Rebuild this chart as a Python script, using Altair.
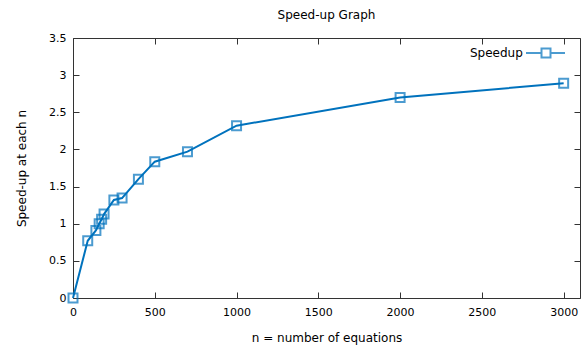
import altair as alt
import pandas as pd

# ---- data ----
n_values = [0, 90, 140, 160, 175, 190, 250, 300, 400, 500, 700, 1000, 2000, 3000]
speedup_values = [0, 0.77, 0.91, 1.0, 1.06, 1.13, 1.32, 1.345, 1.60, 1.835, 1.97, 2.32, 2.70, 2.89]
series_name = "Speedup"
x_ticks = [0, 500, 1000, 1500, 2000, 2500, 3000]
y_ticks = [0, 0.5, 1, 1.5, 2, 2.5, 3, 3.5]

df = pd.DataFrame({"n": n_values, "s": speedup_values, "series": [series_name] * len(n_values)})

FONT = "DejaVu Sans"
FS = 11
TFS = 12
BLUE = "#0072bd"
FRAME = "#333333"

xscale = alt.Scale(domain=[0, 3100], nice=False, zero=False)
yscale = alt.Scale(domain=[0, 3.5], nice=False)

# legend sample drawn to the right of the label (gnuplot style)
SYMBOL = "M13,0H16.1M17.9,0H20.8M16.1,-0.9H17.9V0.9H16.1Z"

color = alt.Color(
    "series:N",
    scale=alt.Scale(domain=[series_name], range=[BLUE]),
    legend=alt.Legend(
        title=None, orient="none", legendX=382, legendY=9, padding=0,
        symbolType=SYMBOL, symbolSize=100, symbolStrokeWidth=2,
        symbolFillColor="transparent", labelOffset=3,
        labelFont=FONT, labelFontSize=TFS, labelColor="black",
    ),
)

common = dict(labelFont=FONT, labelFontSize=FS, labelColor="black",
              titleFont=FONT, titleFontSize=TFS, titleColor="black", titleFontWeight="normal",
              tickColor=FRAME, tickWidth=1, domain=False, grid=False,
              labelFlush=False, labelOverlap=False)

x_main = alt.X("n:Q", scale=xscale, axis=alt.Axis(
    orient="bottom", values=x_ticks, format="d", offset=-6, tickSize=6, labelPadding=8,
    title="n = number of equations", titlePadding=15, **common))
y_main = alt.Y("s:Q", scale=yscale, axis=alt.Axis(
    orient="left", values=y_ticks, format="~g", offset=-6, tickSize=6, labelPadding=7,
    title="Speed-up at each n", titlePadding=20, **common))

line = alt.Chart(df).mark_line(strokeWidth=2, interpolate="linear").encode(
    x=x_main, y=y_main, color=color)
points = alt.Chart(df).mark_point(shape="square", size=81, filled=False, strokeWidth=2).encode(
    x=alt.X("n:Q", scale=xscale, axis=None),
    y=alt.Y("s:Q", scale=yscale, axis=None),
    color=color)

mirror = alt.Chart(df).mark_point(opacity=0).encode(
    x=alt.X("n:Q", scale=xscale, axis=alt.Axis(
        orient="top", values=x_ticks, offset=-6, tickSize=6, labels=False, title=None,
        tickColor=FRAME, domain=False, grid=False)),
    y=alt.Y("s:Q", scale=yscale, axis=alt.Axis(
        orient="right", values=y_ticks, offset=-6, tickSize=6, labels=False, title=None,
        tickColor=FRAME, domain=False, grid=False)),
)

chart = alt.layer(line, points, mirror).resolve_axis(x="independent", y="independent").properties(
    width=507, height=260,
    title=alt.Title("Speed-up Graph", font=FONT, fontSize=TFS, fontWeight="normal",
                    color="black", anchor="middle", offset=10),
    autosize=alt.AutoSizeParams(type="none"),
    padding={"left": 73, "top": 38, "right": 7, "bottom": 48},
    background="white",
).configure_view(stroke=FRAME, strokeWidth=1)

chart.save("out.html", embed_options={"renderer": "svg", "actions": False})
